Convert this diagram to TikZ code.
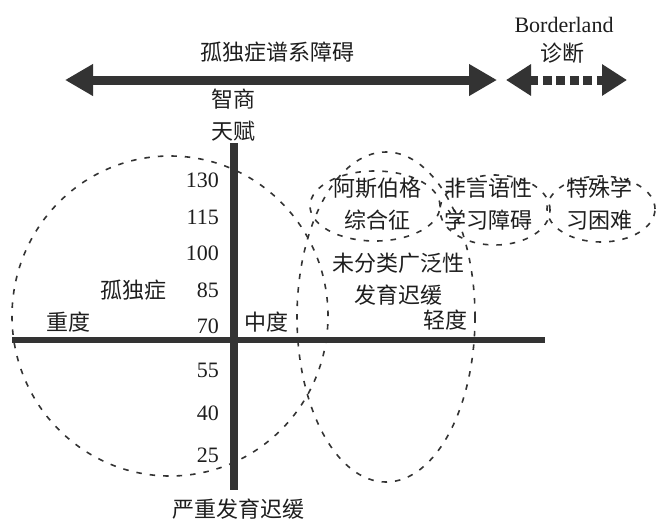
\documentclass[tikz,border=0pt]{standalone}
\usepackage{fontspec}
\setmainfont{Liberation Serif}
\newfontfamily\cjk{Noto Sans CJK SC}
\usetikzlibrary{arrows.meta}
\definecolor{ink}{HTML}{333333}
\definecolor{txt}{HTML}{1e1e1e}
\begin{document}
\begin{tikzpicture}[x=1pt,y=-1pt,
  lbl/.style={font=\fontsize{22}{32}\selectfont\cjk, text=txt, inner sep=0pt, align=center},
  lat/.style={font=\fontsize{22}{26}\selectfont, text=txt, inner sep=0pt, align=center},
  num/.style={font=\fontsize{22}{26}\selectfont, text=txt, inner sep=0pt, anchor=east},
  oval/.style={draw=ink, line width=1.6pt, dash pattern=on 5.5pt off 8pt},
]
\fill[white] (0,0) rectangle (658,520);
\useasboundingbox (0,0) rectangle (658,520);

% ellipses
\draw[oval] (170,316) ellipse [x radius=158pt, y radius=160pt];
\draw[oval] (386,317) ellipse [x radius=89pt, y radius=165pt];
\draw[oval] (375,206) ellipse [x radius=65pt, y radius=35pt];
\draw[oval] (495,210) ellipse [x radius=55pt, y radius=35pt];
\draw[oval] (601,209) ellipse [x radius=54pt, y radius=33pt];

% axes
\coordinate (vT) at (234,143);
\coordinate (vB) at (234,490);
\coordinate (hL) at (12,340);
\coordinate (hR) at (545,340);
\draw[ink, line width=8pt] (vT) -- (vB);
\draw[ink, line width=6.5pt] (hL) -- (hR);

% top arrows
\coordinate (aL) at (65,80);
\coordinate (aR) at (497,80);
\draw[ink, line width=9pt, {Triangle[length=28pt,width=30pt]}-{Triangle[length=28pt,width=30pt]}] (aL) -- (aR);
\coordinate (bL) at (506,80);
\coordinate (bR) at (627,80);
\draw[ink, line width=9pt, dash pattern=on 9pt off 4.5pt, {Triangle[length=25pt,width=30pt]}-{Triangle[length=25pt,width=30pt]}] (bL) -- (bR);

% labels
\node[lbl] (asd) at (277,52) {孤独症谱系障碍};
\node[lat] (bord) at (564,25) {Borderland};
\node[lbl] (zd) at (562,53) {诊断};
\node[lbl] (iq) at (233,115) {智商\\天赋};
\node[lbl] (sev) at (238,509) {严重发育迟缓};
\node[lbl] (aut) at (133,290) {孤独症};
\node[lbl] (zhong) at (68,322) {重度};
\node[lbl] (mid) at (266,322) {中度};
\node[lbl] (light) at (445,320) {轻度};
\node[lbl] (pdd) at (398,279) {未分类广泛性\\发育迟缓};
\node[lbl] (asp) at (377,204) {阿斯伯格\\综合征};
\node[lbl] (nvld) at (488,204) {非言语性\\学习障碍};
\node[lbl] (sld) at (599,204) {特殊学\\习困难};

% numbers
\node[num] (n130) at (219,180) {130};
\node[num] (n115) at (219,217) {115};
\node[num] (n100) at (219,253) {100};
\node[num] (n85) at (219,290) {85};
\node[num] (n70) at (219,326) {70};
\node[num] (n55) at (219,370) {55};
\node[num] (n40) at (219,413) {40};
\node[num] (n25) at (219,455) {25};
\end{tikzpicture}
\end{document}
